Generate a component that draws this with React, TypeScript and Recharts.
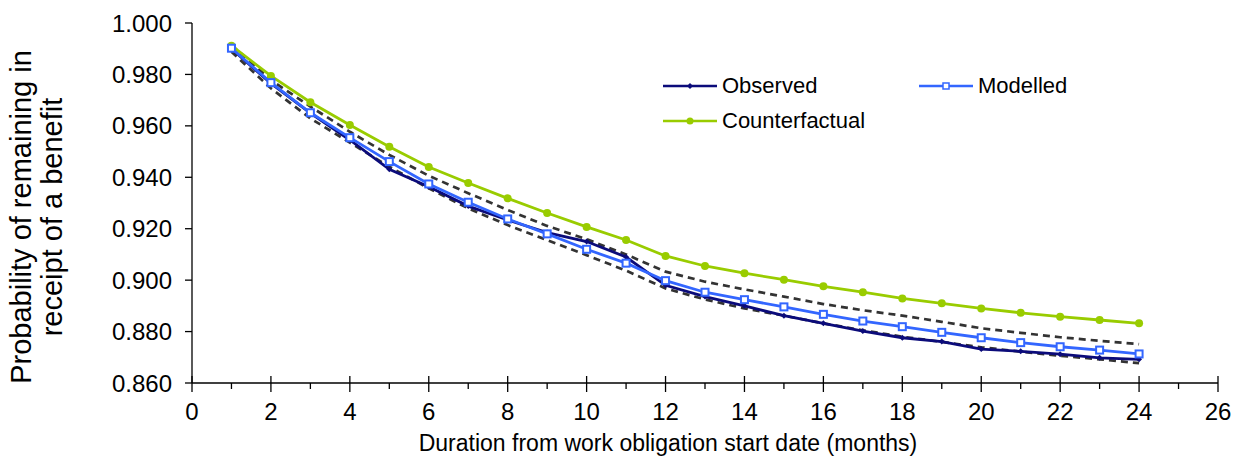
import { LineChart, Line, XAxis, YAxis } from 'recharts'

const months = [1, 2, 3, 4, 5, 6, 7, 8, 9, 10, 11, 12, 13, 14, 15, 16, 17, 18, 19, 20, 21, 22, 23, 24]

const observed = [
  0.990, 0.9765, 0.965, 0.9545, 0.9431, 0.9363, 0.9288, 0.9234, 0.9185, 0.915, 0.909, 0.898,
  0.8936, 0.890, 0.8862, 0.8832, 0.8802, 0.8776, 0.8761, 0.8732, 0.8723, 0.8712, 0.8698, 0.8692,
]

const modelled = [
  0.9902, 0.9768, 0.9651, 0.9554, 0.9461, 0.9374, 0.9303, 0.9238, 0.918, 0.912, 0.9066, 0.8998,
  0.8953, 0.8924, 0.8896, 0.8867, 0.8841, 0.8819, 0.8797, 0.8776, 0.8757, 0.8741, 0.8728, 0.8713,
]

const counterfactual = [
  0.9912, 0.9794, 0.9692, 0.9603, 0.9519, 0.944, 0.9378, 0.9318, 0.9261, 0.9207, 0.9156, 0.9094,
  0.9055, 0.9027, 0.9002, 0.8976, 0.8953, 0.8929, 0.891, 0.889, 0.8873, 0.8858, 0.8845, 0.8832,
]

// confidence band around the modelled curve
const upperBound = [
  0.9914, 0.9778, 0.9675, 0.9577, 0.9487, 0.9406, 0.9338, 0.9273, 0.9211, 0.9159, 0.910, 0.9033,
  0.8994, 0.8964, 0.8936, 0.8907, 0.8883, 0.8862, 0.8838, 0.8813, 0.8795, 0.8778, 0.8764, 0.8751,
]

const lowerBound = [
  0.9888, 0.9746, 0.9629, 0.9535, 0.9441, 0.9357, 0.9279, 0.9214, 0.9156, 0.9097, 0.9037, 0.8968,
  0.8925, 0.889, 0.8862, 0.8832, 0.8805, 0.878, 0.876, 0.8739, 0.8722, 0.8706, 0.8692, 0.8677,
]

const xTicks = [0, 1, 2, 3, 4, 5, 6, 7, 8, 9, 10, 11, 12, 13, 14, 15, 16, 17, 18, 19, 20, 21, 22, 23, 24, 25, 26]
const yTicks = [0.86, 0.88, 0.9, 0.92, 0.94, 0.96, 0.98, 1.0]

const FONT = '"Liberation Sans", Arial, sans-serif'
const NAVY = '#0b0b7a'
const BLUE = '#3366ff'
const GREEN = '#99cc00'
const DASH = '#333333'

const chartData = months.map((m, i) => ({
  month: m,
  observed: observed[i],
  modelled: modelled[i],
  counterfactual: counterfactual[i],
  upper: upperBound[i],
  lower: lowerBound[i],
}))

function DiamondDot({ cx, cy }: any) {
  if (cx == null || cy == null) return null
  const r = 3
  return <polygon points={`${cx},${cy - r} ${cx + r},${cy} ${cx},${cy + r} ${cx - r},${cy}`} fill={NAVY} />
}

function SquareDot({ cx, cy }: any) {
  if (cx == null || cy == null) return null
  return <rect x={cx - 3.5} y={cy - 3.5} width={7} height={7} fill="#fff" stroke={BLUE} strokeWidth={2} />
}

function CircleDot({ cx, cy }: any) {
  if (cx == null || cy == null) return null
  return <circle cx={cx} cy={cy} r={4} fill={GREEN} />
}

// major ticks cross the axis and carry a label, minor ticks sit below it
function MonthTick({ x, y, payload }: any) {
  const major = payload.value % 2 === 0
  return (
    <g>
      <line x1={x} x2={x} y1={major ? y - 7 : y} y2={major ? y + 9 : y + 6} stroke="#000" strokeWidth={1.3} />
      {major && (
        <text x={x} y={y + 37} textAnchor="middle" fontSize={24} fontFamily={FONT} fill="#000">
          {payload.value}
        </text>
      )}
    </g>
  )
}

const legendItems = [
  { name: 'Observed', color: NAVY, marker: 'diamond', left: 663, top: 86 },
  { name: 'Modelled', color: BLUE, marker: 'square', left: 919, top: 86 },
  { name: 'Counterfactual', color: GREEN, marker: 'circle', left: 663, top: 121 },
]

function LegendMarker({ marker, color }: { marker: string; color: string }) {
  return (
    <svg width={54} height={10} style={{ display: 'block' }}>
      <line x1={0} x2={54} y1={5} y2={5} stroke={color} strokeWidth={2.5} />
      {marker === 'diamond' && <polygon points="27,2 30,5 27,8 24,5" fill={color} />}
      {marker === 'square' && <rect x={24} y={2} width={6} height={6} fill="#fff" stroke={color} strokeWidth={1.5} />}
      {marker === 'circle' && <circle cx={27} cy={5} r={3.5} fill={color} />}
    </svg>
  )
}

export default function App() {
  return (
    <div style={{ position: 'absolute', left: 0, top: 0, width: 1235, height: 459, background: '#fff', fontFamily: FONT }}>
      <LineChart width={1235} height={459} data={chartData} margin={{ top: 23, right: 17, bottom: 0, left: 0 }}>
        <XAxis
          type="number"
          dataKey="month"
          domain={[0, 26]}
          ticks={xTicks}
          interval={0}
          tick={<MonthTick />}
          tickLine={false}
          tickSize={0}
          tickMargin={0}
          height={76}
          axisLine={{ stroke: '#000', strokeWidth: 1.3 }}
          label={{
            content: () => (
              <text x={668} y={451} textAnchor="middle" fontSize={23} fontFamily={FONT} fill="#000">
                Duration from work obligation start date (months)
              </text>
            ),
          }}
        />
        <YAxis
          type="number"
          domain={[0.86, 1.0]}
          ticks={yTicks}
          interval={0}
          width={192}
          tickSize={7}
          tickMargin={13}
          tickFormatter={(v: number) => v.toFixed(3)}
          tick={{ fontSize: 24, fontFamily: FONT, fill: '#000' }}
          tickLine={{ stroke: '#000', strokeWidth: 1.3 }}
          axisLine={{ stroke: '#000', strokeWidth: 1.3 }}
          label={{
            content: () => (
              <text transform="translate(31 217) rotate(-90)" textAnchor="middle" fontSize={29} fontFamily={FONT} fill="#000">
                <tspan x={0} dy={0}>Probability of remaining in</tspan>
                <tspan x={0} dy={31}>receipt of a benefit</tspan>
              </text>
            ),
          }}
        />
        <Line dataKey="upper" stroke={DASH} strokeWidth={2.7} strokeDasharray="7 5" dot={false} isAnimationActive={false} />
        <Line dataKey="lower" stroke={DASH} strokeWidth={2.7} strokeDasharray="7 5" dot={false} isAnimationActive={false} />
        <Line dataKey="counterfactual" stroke={GREEN} strokeWidth={2.8} dot={<CircleDot />} isAnimationActive={false} />
        <Line dataKey="observed" stroke={NAVY} strokeWidth={2.8} dot={<DiamondDot />} isAnimationActive={false} />
        <Line dataKey="modelled" stroke={BLUE} strokeWidth={2.8} dot={<SquareDot />} isAnimationActive={false} />
      </LineChart>
      {legendItems.map((item) => (
        <div
          key={item.name}
          style={{ position: 'absolute', left: item.left, top: item.top - 13, height: 26, display: 'flex', alignItems: 'center', fontSize: 22, color: '#000' }}
        >
          <LegendMarker marker={item.marker} color={item.color} />
          <span style={{ marginLeft: 5 }}>{item.name}</span>
        </div>
      ))}
    </div>
  )
}
